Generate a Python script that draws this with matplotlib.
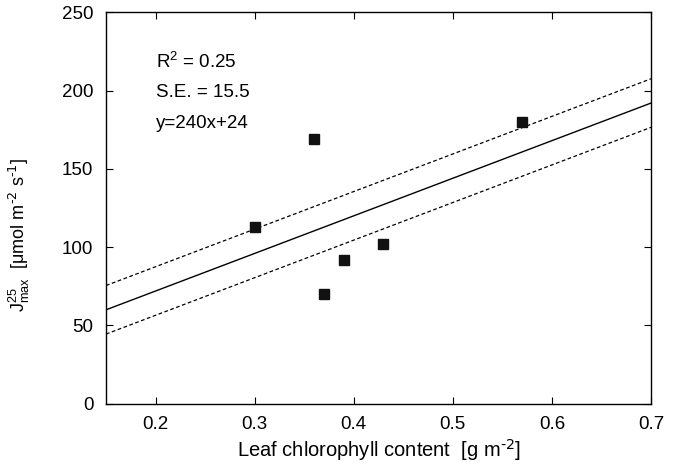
import numpy as np
import matplotlib
matplotlib.use('Agg')
import matplotlib.pyplot as plt

plt.rcParams.update({'font.family': ['Liberation Sans', 'DejaVu Sans'],
                     'font.size': 13.5,
                     'mathtext.default': 'regular'})

# measured leaf chlorophyll vs Jmax25
chl = [0.30, 0.36, 0.37, 0.39, 0.43, 0.57]
jmax = [113, 169, 70, 92, 102, 180]

# regression shown on the chart
slope = 240
intercept = 24
se = 15.5
r2 = 0.25

fig = plt.figure(figsize=(6.75, 4.69), dpi=100)
ax = fig.add_axes([0.157, 0.139, 0.8075, 0.835])

xl = np.array([0.15, 0.7])
yl = slope * xl + intercept
ax.plot(xl, yl, color='black', lw=1.0)
ax.plot(xl, yl + se, color='black', lw=0.9, ls=(0, (3, 2)))
ax.plot(xl, yl - se, color='black', lw=0.9, ls=(0, (3, 2)))
ax.plot(chl, jmax, ls='none', marker='s', ms=6.5, color='#111111')

ax.text(0.2, 218, f'R$^2$ = {r2:.2f}', va='center')
ax.text(0.2, 198.5, f'S.E. = {se}', va='center')
ax.text(0.2, 179, f'y={slope}x+{intercept}', va='center')

ax.set_xlim(0.15, 0.7)
ax.set_ylim(0, 250)
ax.set_xticks([0.2, 0.3, 0.4, 0.5, 0.6, 0.7])
ax.set_xticklabels(['0.2', '0.3', '0.4', '0.5', '0.6', '0.7'])
ax.set_yticks([0, 50, 100, 150, 200, 250])
ax.tick_params(direction='in', top=True, right=True, length=5, width=0.8, pad=9)
for s in ax.spines.values():
    s.set_linewidth(1.0)

ax.set_xlabel('Leaf chlorophyll content  [g m$^{\\text{-2}}$]', fontsize=14.5, labelpad=3)
ax.set_ylabel('$J^{25}_{max}$  [$\\mu$mol m$^{\\text{-2}}$ s$^{\\text{-1}}$]', fontsize=13)
ax.yaxis.set_label_coords(-0.135, 0.43)

fig.savefig('out.png', dpi=100)
